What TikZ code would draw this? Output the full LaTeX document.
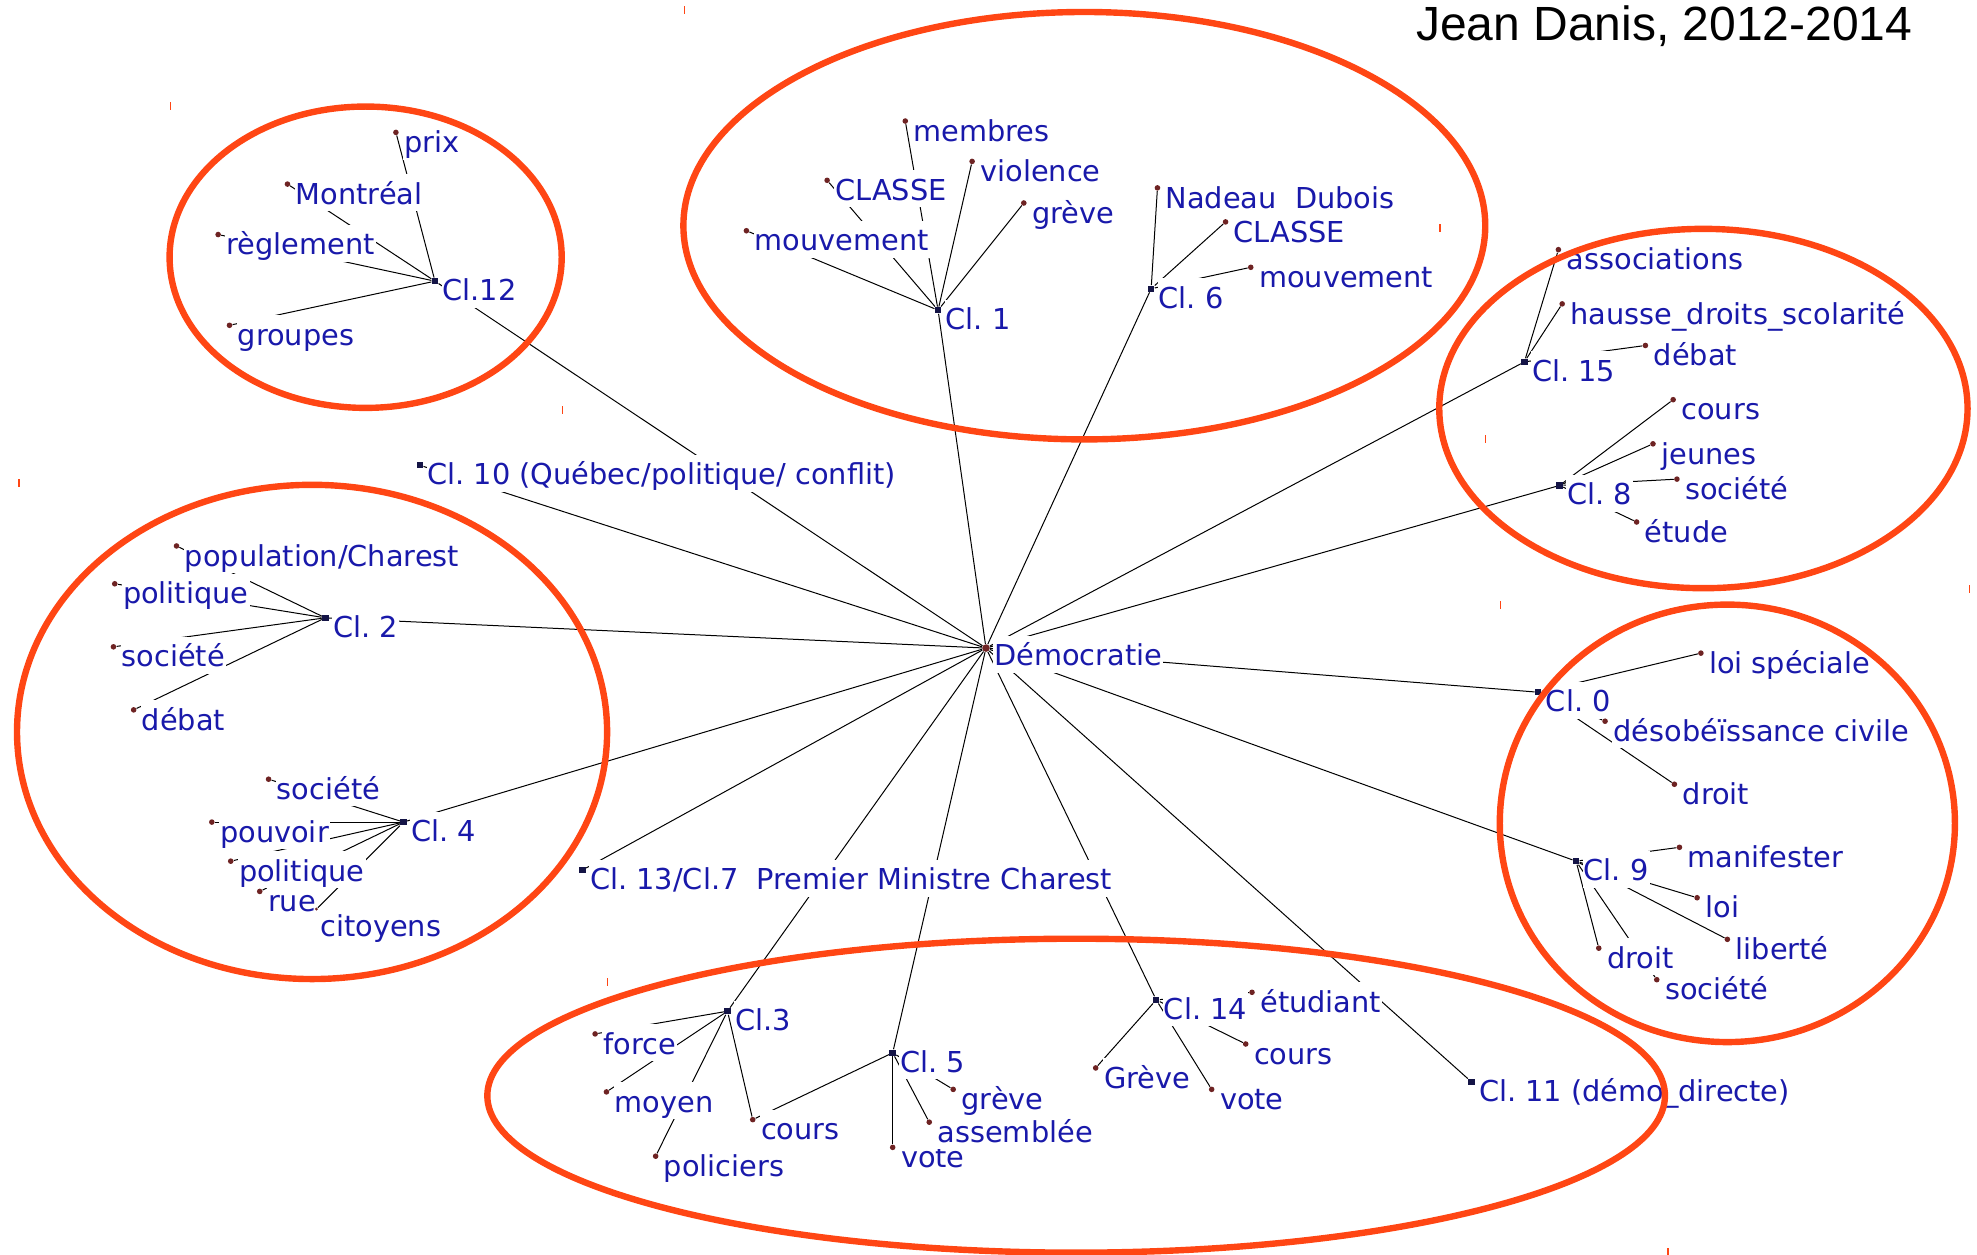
\documentclass[tikz,border=0pt]{standalone}
\usepackage{fontspec}
\newfontfamily\lblfont{DejaVu Sans}
\newfontfamily\ttlfont{Liberation Sans}
\usetikzlibrary{calc}
\pgfdeclarelayer{links}
\pgfdeclarelayer{marks}
\pgfdeclarelayer{rings}
\pgfsetlayers{links,main,marks,rings}

\definecolor{lblblue}{RGB}{25,25,170}
\definecolor{ringred}{RGB}{255,70,20}
\definecolor{dotred}{RGB}{110,35,35}
\definecolor{hubnavy}{RGB}{20,20,70}

\tikzset{
  lbl/.style={anchor=base west, text=lblblue, fill=white, inner sep=0.5pt,
    text height=14.5pt, text depth=3pt,
    font=\lblfont\frenchspacing\fontsize{14.4}{16}\selectfont},
  leafdot/.style={circle, fill=dotred, inner sep=0pt, minimum size=2.8pt},
  centerdot/.style={circle, fill=dotred, inner sep=0pt, minimum size=3.8pt},
  hubsq/.style={rectangle, fill=hubnavy, inner sep=0pt, minimum size=3.2pt},
  link/.style={black, line width=0.5pt},
  ring/.style={draw=ringred, line width=3.2pt},
  tick/.style={draw=ringred, line width=0.7pt},
}

% cluster node: square marker plus its label
\newcommand\hubnode[4]{%
  \node[lbl] (#1-t) at ($(#2,#3)+(5,15.5)$) {#4};
  \begin{pgfonlayer}{marks}\node[hubsq] (#1) at (#2,#3) {};\end{pgfonlayer}
}
% word node: dot marker, its label, and the link to its cluster
\newcommand\leafnode[5]{%
  \node[lbl] (#1-t) at ($(#3,#4)+(5.5,16)$) {#5};
  \begin{pgfonlayer}{marks}\node[leafdot] (#1) at (#3,#4) {};\end{pgfonlayer}
  \begin{pgfonlayer}{links}\draw[link] (#2) -- (#1);\end{pgfonlayer}
}

\begin{document}
\begin{tikzpicture}[x=0.6305pt, y=-0.6305pt]
\useasboundingbox (0,0) rectangle (1568,995);

% title
\node[font=\ttlfont\fontsize{24}{28}\selectfont, text=black] (title) at (1320,21) {Jean Danis, 2012-2014};

% centre
\node[lbl] (dem-t) at ($(782,514)+(5.5,14)$) {Démocratie};
\begin{pgfonlayer}{marks}\node[centerdot] (dem) at (782,514) {};\end{pgfonlayer}

% clusters
\hubnode{c12}{345}{223}{Cl.12}
\hubnode{c10}{333}{369}{Cl. 10 (Québec/politique/ conflit)}
\hubnode{c1}{744}{246}{Cl. 1}
\hubnode{c6}{913}{229}{Cl. 6}
\hubnode{c15}{1209}{287}{Cl. 15}
\hubnode{c8}{1237}{385}{Cl. 8}
\hubnode{c2}{258}{490}{Cl. 2}
\hubnode{c4}{320}{652}{Cl. 4}
\hubnode{c13}{462}{690}{Cl. 13/Cl.7\ \ Premier Ministre Charest}
\hubnode{c3}{577}{802}{Cl.3}
\hubnode{c5}{708}{835}{Cl. 5}
\hubnode{c14}{917}{793}{Cl. 14}
\hubnode{c11}{1167}{858}{Cl. 11 (démo\_directe)}
\hubnode{c0}{1220}{549}{Cl. 0}
\hubnode{c9}{1250}{683}{Cl. 9}

\begin{pgfonlayer}{links}
\foreach \h in {c12,c10,c1,c6,c15,c8,c2,c4,c13,c3,c5,c14,c11,c0,c9}
  \draw[link] (dem) -- (\h);
\end{pgfonlayer}

% Cl.12
\leafnode{w12a}{c12}{314}{105}{prix}
\leafnode{w12b}{c12}{228}{146}{Montréal}
\leafnode{w12c}{c12}{173}{186}{règlement}
\leafnode{w12d}{c12}{182}{258}{groupes}
% Cl.1
\leafnode{w1a}{c1}{718}{96}{membres}
\leafnode{w1b}{c1}{771}{128}{violence}
\leafnode{w1c}{c1}{656}{143}{CLASSE}
\leafnode{w1d}{c1}{812}{161}{grève}
\leafnode{w1e}{c1}{592}{183}{mouvement}
% Cl.6
\leafnode{w6a}{c6}{918}{149}{Nadeau\ \ Dubois}
\leafnode{w6b}{c6}{972}{176}{CLASSE}
\leafnode{w6c}{c6}{992}{212}{mouvement}
% Cl.15
\leafnode{w15a}{c15}{1236}{198}{associations}
\leafnode{w15b}{c15}{1239}{241}{hausse\_droits\_scolarité}
\leafnode{w15c}{c15}{1305}{274}{débat}
% Cl.8
\leafnode{w8a}{c8}{1327}{317}{cours}
\leafnode{w8b}{c8}{1311}{352}{jeunes}
\leafnode{w8c}{c8}{1330}{380}{société}
\leafnode{w8d}{c8}{1298}{414}{étude}
% Cl.2
\leafnode{w2a}{c2}{140}{433}{population/Charest}
\leafnode{w2b}{c2}{91}{463}{politique}
\leafnode{w2c}{c2}{90}{513}{société}
\leafnode{w2d}{c2}{106}{563}{débat}
% Cl.4
\leafnode{w4a}{c4}{213}{618}{société}
\leafnode{w4b}{c4}{168}{652}{pouvoir}
\leafnode{w4c}{c4}{183}{683}{politique}
\leafnode{w4d}{c4}{206}{707}{rue}
\node[lbl] (w4e-t) at (253,743) {citoyens};
\begin{pgfonlayer}{marks}\node[leafdot, minimum size=1.6pt] (w4e) at (251,721) {};\end{pgfonlayer}
\begin{pgfonlayer}{links}\draw[link] (c4) -- (w4e);\end{pgfonlayer}
% Cl.0
\leafnode{w0a}{c0}{1349}{518}{loi spéciale}
\leafnode{w0b}{c0}{1273}{572}{désobéïssance civile}
\leafnode{w0c}{c0}{1328}{622}{droit}
% Cl.9
\leafnode{w9a}{c9}{1332}{672}{manifester}
\leafnode{w9b}{c9}{1346}{712}{loi}
\leafnode{w9c}{c9}{1370}{745}{liberté}
\leafnode{w9d}{c9}{1268}{752}{droit}
\leafnode{w9e}{c9}{1314}{777}{société}
% Cl.3
\leafnode{w3a}{c3}{472}{820}{force}
\leafnode{w3b}{c3}{481}{866}{moyen}
\leafnode{w3c}{c3}{520}{917}{policiers}
\leafnode{w3d}{c3}{597}{888}{cours}
% Cl.5 (shares "cours" with Cl.3)
\leafnode{w5c}{c5}{708}{910}{vote}
\leafnode{w5b}{c5}{737}{890}{assemblée}
\leafnode{w5a}{c5}{756}{864}{grève}
\begin{pgfonlayer}{links}\draw[link] (c5) -- (w3d);\end{pgfonlayer}
% Cl.14
\leafnode{w14a}{c14}{993}{787}{étudiant}
\leafnode{w14b}{c14}{988}{828}{cours}
\leafnode{w14c}{c14}{869}{847}{Grève}
\leafnode{w14d}{c14}{961}{864}{vote}

% groupings
\begin{pgfonlayer}{rings}
\draw[ring] (290,204) ellipse [x radius=155.5, y radius=119.5];
\draw[ring] (860,179) ellipse [x radius=318, y radius=169.5];
\draw[ring] (1351,324) ellipse [x radius=209.5, y radius=142.5];
\draw[ring] (247.5,580.5) ellipse [x radius=234, y radius=196];
\draw[ring] (1370,653) ellipse [x radius=180.5, y radius=173.5];
\draw[ring] (853.5,869) ellipse [x radius=467, y radius=124.5];
% small stray marks
\foreach \p in {(135,84),(543,8),(15,383),(446,325),(1142,181),(1178,348),(1190,480),(1562,467),(482,779),(1323,993)}
  \draw[tick] \p ++(0,-3) -- ++(0,6);
\end{pgfonlayer}
\end{tikzpicture}
\end{document}
